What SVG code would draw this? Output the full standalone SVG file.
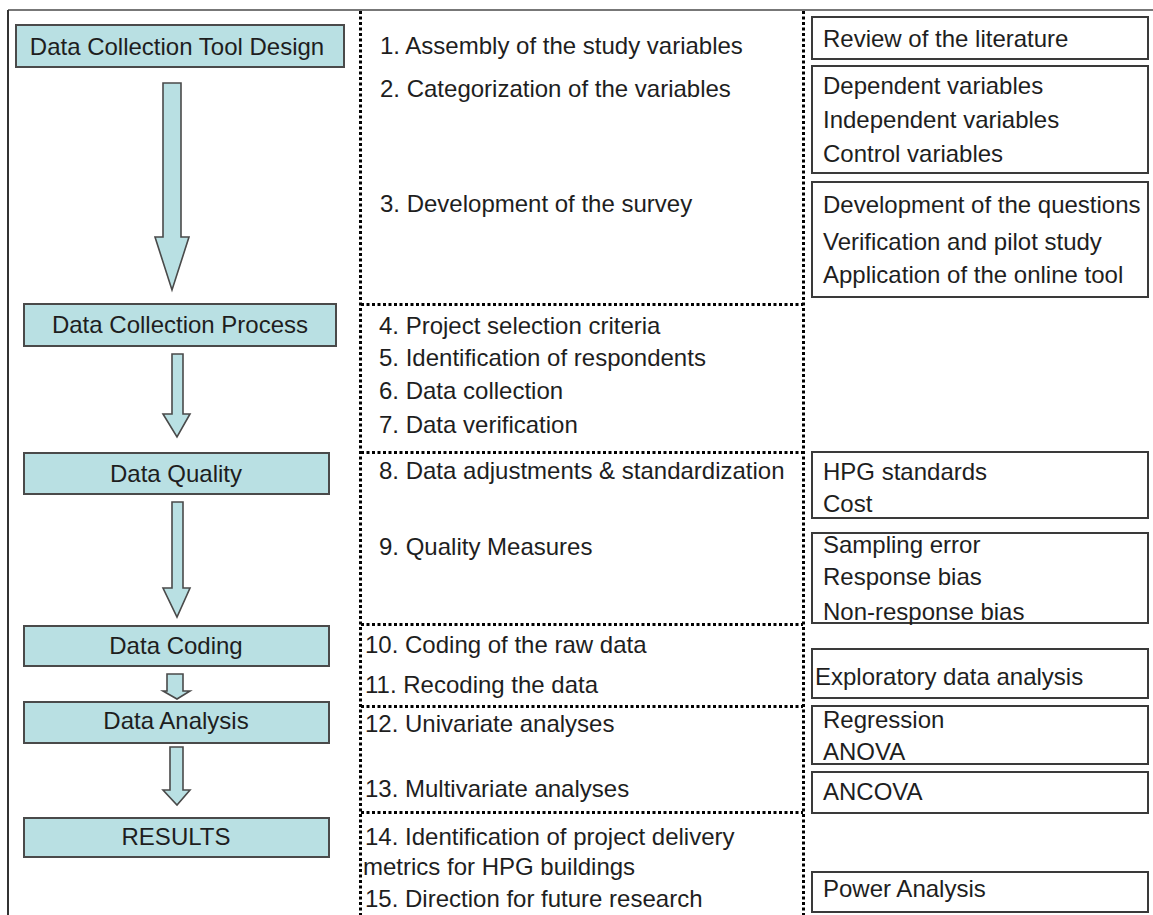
<svg xmlns="http://www.w3.org/2000/svg" width="1153" height="915" viewBox="0 0 1153 915">
<style>
text{font-family:"Liberation Sans",Arial,sans-serif;font-size:24px;fill:#1e1e1e}
.stage{fill:#b9e0e3;stroke:#4a4a4a;stroke-width:2}
.note{fill:#fff;stroke:#3a3a3a;stroke-width:2}
.arrow{fill:#b9e0e3;stroke:#4a4a4a;stroke-width:1.6;stroke-linejoin:miter}
.dot{fill:none;stroke:#000;stroke-width:3;stroke-dasharray:3 2.5}
.c{text-anchor:middle}
</style>
<rect width="1153" height="915" fill="#fff"/>
<g id="frame">
<line x1="8" y1="10" x2="1153" y2="10" stroke="#777" stroke-width="2"/>
<line x1="8" y1="10" x2="8" y2="915" stroke="#333" stroke-width="2"/>
</g>
<g id="dividers">
<line class="dot" x1="360.5" y1="11" x2="360.5" y2="915"/>
<line class="dot" x1="803.5" y1="11" x2="803.5" y2="915"/>
<line class="dot" x1="361" y1="304.5" x2="803" y2="304.5"/>
<line class="dot" x1="361" y1="452.5" x2="803" y2="452.5"/>
<line class="dot" x1="361" y1="624.5" x2="803" y2="624.5"/>
<line class="dot" x1="361" y1="706.5" x2="803" y2="706.5"/>
<line class="dot" x1="361" y1="812.5" x2="803" y2="812.5"/>
</g>
<g id="stage-design"><rect class="stage" x="16" y="25" width="328" height="42"/><text class="c" x="177" y="55">Data Collection Tool Design</text></g>
<g id="stage-process"><rect class="stage" x="24" y="304" width="312" height="42"/><text class="c" x="180" y="333">Data Collection Process</text></g>
<g id="stage-quality"><rect class="stage" x="24" y="453" width="305" height="41"/><text class="c" x="176" y="482">Data Quality</text></g>
<g id="stage-coding"><rect class="stage" x="24" y="626" width="305" height="40"/><text class="c" x="176" y="654">Data Coding</text></g>
<g id="stage-analysis"><rect class="stage" x="24" y="702" width="305" height="41"/><text class="c" x="176" y="729">Data Analysis</text></g>
<g id="stage-results"><rect class="stage" x="24" y="818" width="305" height="39"/><text class="c" x="176" y="845">RESULTS</text></g>
<g id="connectors">
<polygon class="arrow" points="163,83 181,83 181,237 189,237 172,290 155,237 163,237"/>
<polygon class="arrow" points="172,354 183,354 183,414 190,414 177,437 163,414 172,414"/>
<polygon class="arrow" points="172,502 183,502 183,588 190,588 177,617 163,588 172,588"/>
<polygon class="arrow" points="167,674 183,674 183,691 190,691 177,699 163,691 167,691"/>
<polygon class="arrow" points="170,747 183,747 183,790 190,790 177,805 163,790 170,790"/>
</g>
<g id="steps">
<text x="380" y="54">1. Assembly of the study variables</text>
<text x="380" y="97">2. Categorization of the variables</text>
<text x="380" y="212">3. Development of the survey</text>
<text x="379" y="334">4. Project selection criteria</text>
<text x="379" y="366">5. Identification of respondents</text>
<text x="379" y="399">6. Data collection</text>
<text x="379" y="433">7. Data verification</text>
<text x="379" y="479">8. Data adjustments &amp; standardization</text>
<text x="379" y="555">9. Quality Measures</text>
<text x="365" y="653">10. Coding of the raw data</text>
<text x="365" y="693">11. Recoding the data</text>
<text x="365" y="732">12. Univariate analyses</text>
<text x="365" y="797">13. Multivariate analyses</text>
<text x="365" y="845">14. Identification of project delivery</text>
<text x="363" y="875">metrics for HPG buildings</text>
<text x="365" y="907">15. Direction for future research</text>
</g>
<g id="note-literature"><rect class="note" x="812" y="17" width="336" height="42"/><text x="823" y="47">Review of the literature</text></g>
<g id="note-variables"><rect class="note" x="812" y="66" width="336" height="107"/><text x="823" y="94">Dependent variables</text><text x="823" y="128">Independent variables</text><text x="823" y="162">Control variables</text></g>
<g id="note-survey"><rect class="note" x="812" y="182" width="336" height="115"/><text x="823" y="213">Development of the questions</text><text x="823" y="250">Verification and pilot study</text><text x="823" y="283">Application of the online tool</text></g>
<g id="note-standards"><rect class="note" x="812" y="452" width="336" height="66"/><text x="823" y="480">HPG standards</text><text x="823" y="512">Cost</text></g>
<g id="note-quality"><rect class="note" x="812" y="533" width="336" height="90"/><text x="823" y="553">Sampling error</text><text x="823" y="585">Response bias</text><text x="823" y="620">Non-response bias</text></g>
<g id="note-exploratory"><rect class="note" x="812" y="649" width="336" height="49"/><text x="815" y="685">Exploratory data analysis</text></g>
<g id="note-regression"><rect class="note" x="812" y="706" width="336" height="58"/><text x="823" y="728">Regression</text><text x="823" y="760">ANOVA</text></g>
<g id="note-ancova"><rect class="note" x="812" y="772" width="336" height="41"/><text x="823" y="800">ANCOVA</text></g>
<g id="note-power"><rect class="note" x="812" y="872" width="336" height="40"/><text x="823" y="897">Power Analysis</text></g>
</svg>
